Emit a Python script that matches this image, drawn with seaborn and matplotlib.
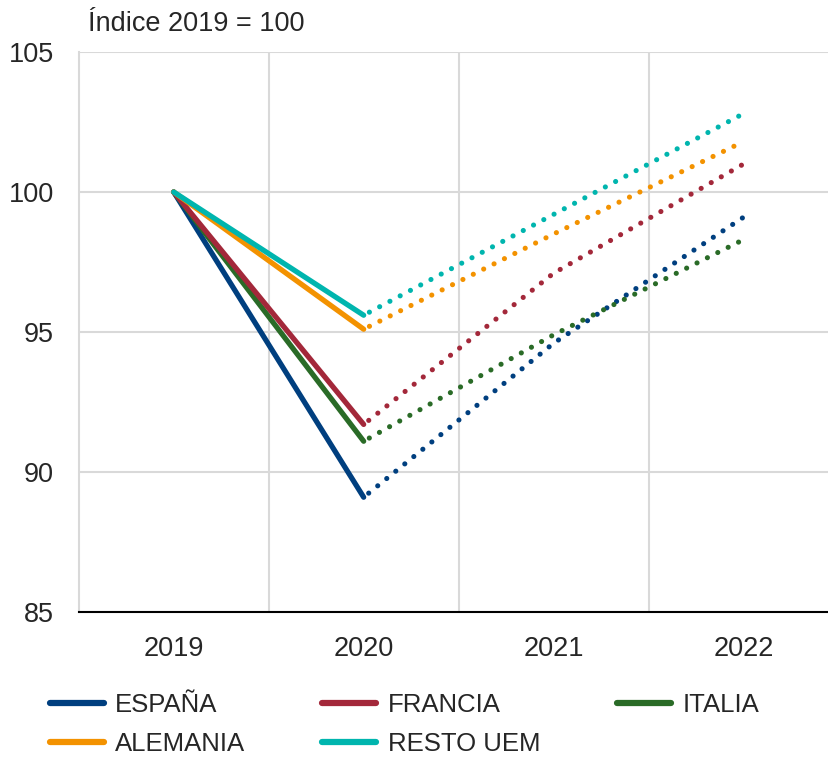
import numpy as np
import pandas as pd
import matplotlib
matplotlib.use('Agg')
import matplotlib.pyplot as plt
from matplotlib.lines import Line2D
import seaborn as sns

sns.set_style('white')
plt.rcParams['font.family'] = ['Liberation Sans', 'DejaVu Sans']

# Data (Índice 2019 = 100)
years = ['2019', '2020', '2021', '2022']
espana = [100, 89.1, 94.6, 99.1]
francia = [100, 91.7, 97.1, 101.0]
italia = [100, 91.1, 94.9, 98.3]
alemania = [100, 95.1, 98.5, 101.8]
resto_uem = [100, 95.6, 99.2, 102.8]

series = {
    'ESPAÑA': espana,
    'FRANCIA': francia,
    'ITALIA': italia,
    'ALEMANIA': alemania,
    'RESTO UEM': resto_uem,
}
colors = {
    'ESPAÑA': '#003F7F',
    'FRANCIA': '#A3283A',
    'ITALIA': '#2A6B27',
    'ALEMANIA': '#F39200',
    'RESTO UEM': '#00B5AE',
}

rows = []
for name, vals in series.items():
    for i, v in enumerate(vals):
        rows.append({'serie': name, 'x': i, 'valor': v})
df = pd.DataFrame(rows)

fig = plt.figure(figsize=(8.29, 7.57), dpi=100)
ax = fig.add_axes([0.095, 0.1915, 0.905, 0.7398])

# draw order: back to front like the reference
order = ['ESPAÑA', 'ITALIA', 'FRANCIA', 'ALEMANIA', 'RESTO UEM']
for name in order:
    d = df[df['serie'] == name]
    real = d[d['x'] <= 1]
    prev = d[d['x'] >= 1]
    sns.lineplot(data=real, x='x', y='valor', ax=ax, color=colors[name],
                 lw=3.8, solid_capstyle='round', legend=False)
    sns.lineplot(data=prev, x='x', y='valor', ax=ax, color=colors[name],
                 lw=3.7, linestyle=(1.0, (0.01, 2.25)), dash_capstyle='round',
                 legend=False)

ax.set_xlim(-0.5, 3.45)
ax.set_ylim(85, 105)
ax.set_yticks([85, 90, 95, 100, 105])
ax.set_xticks(range(len(years)))
ax.set_xticklabels(years)
ax.set_xticks([0.5, 1.5, 2.5], minor=True)
ax.grid(False)
ax.grid(True, which='minor', axis='x', color='#D9D9D9', lw=1.5)
ax.grid(True, which='major', axis='y', color='#D9D9D9', lw=1.5)
ax.set_axisbelow(True)
ax.tick_params(axis='both', which='both', length=0, labelsize=19.5)
ax.tick_params(axis='x', pad=17)
ax.tick_params(axis='y', pad=18)
ax.set_xlabel('')
ax.set_ylabel('')

for s in ['top', 'right']:
    ax.spines[s].set_visible(False)
ax.spines['left'].set_color('#D9D9D9')
ax.spines['left'].set_linewidth(1.5)
ax.spines['bottom'].set_color('black')
ax.spines['bottom'].set_linewidth(1.5)

fig.text(0.106, 0.968, 'Índice 2019 = 100', fontsize=19.5, va='center', ha='left')

legend_order = ['ESPAÑA', 'ALEMANIA', 'FRANCIA', 'RESTO UEM', 'ITALIA']
handles = [Line2D([0], [0], color=colors[n], lw=4.5, solid_capstyle='round')
           for n in legend_order]
fig.legend(handles, legend_order, loc='lower left', bbox_to_anchor=(0.035, -0.026),
           ncol=3, frameon=False, fontsize=18.5, handlelength=2.1,
           handletextpad=0.45, columnspacing=3.0, labelspacing=0.6,
           borderpad=0.3)

fig.savefig('out.png', dpi=100)
